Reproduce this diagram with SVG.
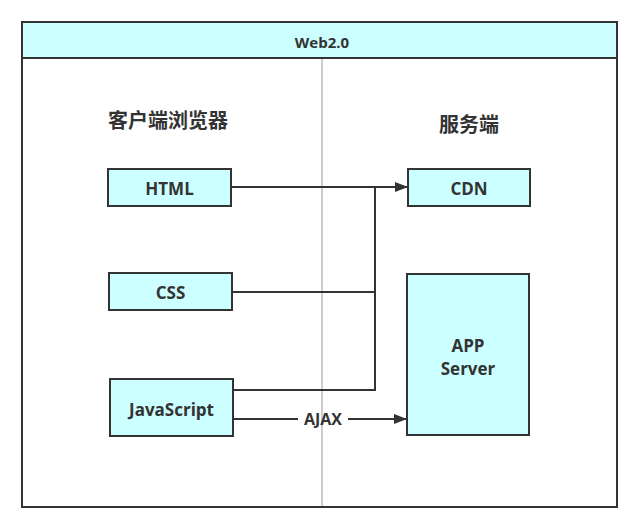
<svg xmlns="http://www.w3.org/2000/svg" width="640" height="530" viewBox="0 0 640 530">
<style>
.box{fill:#ccffff;stroke:#333;stroke-width:2}
.t{font-family:"Open Sans","Noto Sans CJK SC",sans-serif;font-weight:bold;fill:#333;text-anchor:middle;dominant-baseline:central}
.ln{fill:none;stroke:#333;stroke-width:2}
</style>
<defs>
<marker id="arr" markerWidth="13" markerHeight="10" refX="12" refY="5" orient="auto" markerUnits="userSpaceOnUse">
<path d="M0,0 L13,5 L0,10 Z" fill="#333"/>
</marker>
</defs>
<rect width="640" height="530" fill="#fff"/>
<g id="frame">
<rect x="22" y="22" width="595" height="485" fill="#fff" stroke="#333" stroke-width="2"/>
<rect x="22" y="22" width="595" height="36" class="box"/>
<text class="t" x="322" y="42" font-size="15">Web2.0</text>
<line x1="322" y1="59" x2="322" y2="506" stroke="#bbb" stroke-width="1.5"/>
</g>
<text class="t" x="168" y="120" font-size="20">客户端浏览器</text>
<text class="t" x="469" y="124" font-size="20">服务端</text>
<g id="connectors">
<polyline class="ln" points="231,187 407,187" marker-end="url(#arr)"/>
<polyline class="ln" points="232,292 375,292 375,187"/>
<polyline class="ln" points="233,390 375,390 375,292"/>
<line class="ln" x1="233" y1="419" x2="298" y2="419"/>
<line class="ln" x1="348" y1="419" x2="406" y2="419" marker-end="url(#arr)"/>
<text class="t" x="323" y="419" font-size="16">AJAX</text>
</g>
<g id="html"><rect class="box" x="108" y="169" width="123" height="37"/><text class="t" x="169.5" y="188" font-size="17">HTML</text></g>
<g id="css"><rect class="box" x="109" y="273" width="123" height="37"/><text class="t" x="170.5" y="292" font-size="17">CSS</text></g>
<g id="js"><rect class="box" x="110" y="379" width="123" height="57"/><text class="t" x="171.5" y="409" font-size="17">JavaScript</text></g>
<g id="cdn"><rect class="box" x="408" y="169" width="122" height="37"/><text class="t" x="469" y="188" font-size="17">CDN</text></g>
<g id="app"><rect class="box" x="407" y="274" width="122" height="161"/><text class="t" x="468" y="345" font-size="17">APP</text><text class="t" x="468" y="368" font-size="17">Server</text></g>
</svg>
